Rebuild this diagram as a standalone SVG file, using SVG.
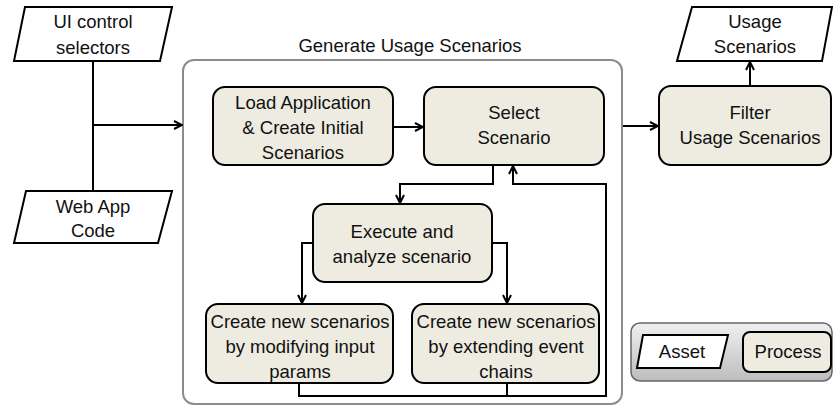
<svg xmlns="http://www.w3.org/2000/svg" width="833" height="407" viewBox="0 0 833 407">
<defs>
<marker id="ah" viewBox="0 0 10 10" refX="9" refY="5" markerWidth="5" markerHeight="5" orient="auto" markerUnits="strokeWidth">
<path d="M1,1 L9,5 L1,9" fill="none" stroke="#000" stroke-width="2"/>
</marker>
<linearGradient id="lg" x1="0" y1="0" x2="0" y2="1">
<stop offset="0" stop-color="#f0f0f0"/>
<stop offset="1" stop-color="#bdbdbd"/>
</linearGradient>
<style>
text{font-family:"Liberation Sans",Arial,sans-serif;font-size:18.5px;fill:#111;text-anchor:middle}
.proc{fill:#eeece1;stroke:#000;stroke-width:2}
.asset{fill:#fff;stroke:#000;stroke-width:2}
.conn{fill:none;stroke:#000;stroke-width:2}
</style>
</defs>
<g id="generate">
<rect x="183" y="60" width="439" height="344" rx="11" fill="#fff" stroke="#8c8c8c" stroke-width="2"/>
<text x="410" y="52">Generate Usage Scenarios</text>
</g>
<g id="ui-selectors">
<polygon class="asset" points="25,7 172,7 160,61 14,61"/>
<text x="93" y="28">UI control</text>
<text x="93" y="54">selectors</text>
</g>
<g id="web-app-code">
<polygon class="asset" points="26,191 172,191 158,243 14,243"/>
<text x="93" y="213">Web App</text>
<text x="93" y="237">Code</text>
</g>
<g id="load">
<rect class="proc" x="213" y="87" width="180" height="78" rx="12"/>
<text x="303" y="109">Load Application</text>
<text x="303" y="134">&amp; Create Initial</text>
<text x="303" y="159">Scenarios</text>
</g>
<g id="select">
<rect class="proc" x="424" y="87" width="180" height="78" rx="12"/>
<text x="514" y="119">Select</text>
<text x="514" y="144">Scenario</text>
</g>
<g id="execute">
<rect class="proc" x="313" y="204" width="179" height="78" rx="12"/>
<text x="402" y="238">Execute and</text>
<text x="402" y="263">analyze scenario</text>
</g>
<g id="modify">
<rect class="proc" x="206" y="304" width="187" height="79" rx="12"/>
<text x="300" y="328">Create new scenarios</text>
<text x="300" y="353">by modifying input</text>
<text x="300" y="378">params</text>
</g>
<g id="extend">
<rect class="proc" x="412" y="304" width="187" height="79" rx="12"/>
<text x="506" y="328">Create new scenarios</text>
<text x="506" y="353">by extending event</text>
<text x="506" y="378">chains</text>
</g>
<g id="filter">
<rect class="proc" x="659" y="86" width="172" height="79" rx="12"/>
<text x="750" y="119">Filter</text>
<text x="750" y="144">Usage Scenarios</text>
</g>
<g id="usage-scenarios">
<polygon class="asset" points="692,7 832,7 822,61 677,61"/>
<text x="755" y="28">Usage</text>
<text x="755" y="53">Scenarios</text>
</g>
<g id="legend">
<rect x="631" y="323" width="201" height="58" rx="9" fill="url(#lg)" stroke="#666" stroke-width="1.5"/>
<polygon class="asset" points="643,335 728,335 720,368 637,368"/>
<text x="682" y="358">Asset</text>
<rect class="proc" x="743" y="332" width="88" height="40" rx="7"/>
<text x="788" y="358">Process</text>
</g>
<g id="connectors">
<path class="conn" d="M93,61 V191"/>
<path class="conn" d="M93,125 H182" marker-end="url(#ah)"/>
<path class="conn" d="M393,127 H423" marker-end="url(#ah)"/>
<path class="conn" d="M493,165 V184 H400 V203" marker-end="url(#ah)"/>
<path class="conn" d="M313,243 H302 V303" marker-end="url(#ah)"/>
<path class="conn" d="M492,243 H507 V303" marker-end="url(#ah)"/>
<path class="conn" d="M299,383 V396 H606 V184 H513 V166" marker-end="url(#ah)"/>
<path class="conn" d="M507,383 V396"/>
<path class="conn" d="M623,126 H658" marker-end="url(#ah)"/>
<path class="conn" d="M750,86 V62" marker-end="url(#ah)"/>
</g>
</svg>
